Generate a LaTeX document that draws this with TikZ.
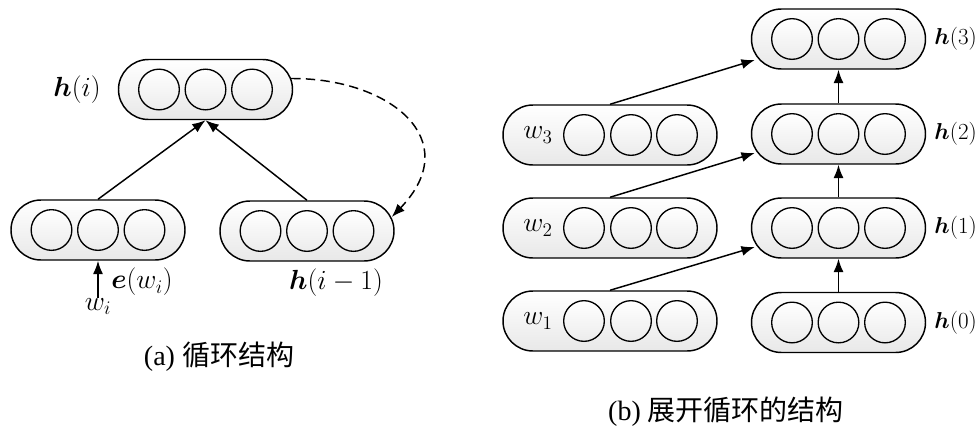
\documentclass[tikz,border=0pt]{standalone}
\usepackage{bm}
\usepackage[no-math]{fontspec}
\setmainfont{Liberation Serif}
\newfontfamily\cjkfont{Noto Sans CJK SC}
\usetikzlibrary{arrows.meta,calc}
\begin{document}
\begin{tikzpicture}[x=0.75pt,y=-0.75pt,
  layer/.style={draw=black, line width=1.1pt, rounded corners=22.5pt, minimum width=130.5pt, minimum height=45pt, top color=white, bottom color=gray!18, inner sep=0pt},
  wlayer/.style={layer, minimum width=160.5pt},
  unit/.style={circle, draw=black, line width=1pt, minimum size=30.5pt, inner sep=0pt, top color=white, bottom color=gray!15},
  lab/.style={font=\fontsize{19.5}{23}\selectfont, inner sep=0pt},
  rlab/.style={font=\fontsize{18}{22}\selectfont, inner sep=0pt, anchor=east},
  captext/.style={font=\fontsize{21}{25}\selectfont, inner sep=0pt},
  arr/.style={-{Latex[length=10pt,width=7.5pt]}, line width=1.1pt},
  ]
\useasboundingbox (0,0) rectangle (979,436);
% left panel layers
\node[layer] (hi) at (205.5,89.5) {};
\node[layer] (ew) at (98,230) {};
\node[layer] (hp) at (307,231) {};
% right panel layers
\node[layer] (h3) at (838.5,39) {};
\node[layer] (h2) at (838.5,134) {};
\node[layer] (h1) at (838.5,228) {};
\node[layer] (h0) at (838.5,322.5) {};
\node[wlayer] (w3) at (610,135) {};
\node[wlayer] (w2) at (610,228) {};
\node[wlayer] (w1) at (610,321) {};
% units
\foreach \b in {hi,ew,hp,h3,h2,h1,h0}{
  \foreach \k/\dx in {1/-46.5,2/0,3/46.5}
    \node[unit] (\b-\k) at ($(\b)+(\dx,0)$) {};
}
\foreach \b in {w3,w2,w1}{
  \foreach \k/\dx in {1/-26,2/21,3/67}
    \node[unit] (\b-\k) at ($(\b)+(\dx,0)$) {};
}
% labels left
\node[lab] (lhi) at (77,90) {$\bm{h}(i)$};
\node[lab] (lew) at (142,282) {$\bm{e}(w_i)$};
\node[lab] (lhp) at (336,283) {$\bm{h}(i-1)$};
\node[lab, anchor=north] (wi) at (98,298) {$w_i$};
% labels right
\node[rlab] (lh3) at (977,39) {$\bm{h}(3)$};
\node[rlab] (lh2) at (977,134) {$\bm{h}(2)$};
\node[rlab] (lh1) at (977,228) {$\bm{h}(1)$};
\node[rlab] (lh0) at (977,322.5) {$\bm{h}(0)$};
\node[lab] (lw3) at (538,135) {$w_3$};
\node[lab] (lw2) at (538,228) {$w_2$};
\node[lab] (lw1) at (538,321) {$w_1$};
% captions
\node[captext] (capa) at (219,357) {(a) {\cjkfont 循环结构}};
\node[captext] (capb) at (726,412) {(b) {\cjkfont 展开循环的结构}};
% arrows left
\draw[arr] (ew.north) -- (hi.south);
\draw[arr] (hp.north) -- (hi.south);
\draw[arr] (wi.north) -- (ew.south);
\draw[arr, dash pattern=on 7pt off 4pt] ($(hi.east)+(-2,-11)$) .. controls (390,78) and (466,140) .. ($(hp.east)+(-3,-14)$);
% arrows right
\draw[arr] (h0.north) -- (h1.south);
\draw[arr] (h1.north) -- (h2.south);
\draw[arr] (h2.north) -- (h3.south);
\draw[arr] (w1.north) -- ($(h1.west)+(4,19)$);
\draw[arr] (w2.north) -- ($(h2.west)+(4,19)$);
\draw[arr] (w3.north) -- ($(h3.west)+(4,21)$);
\end{tikzpicture}
\end{document}
